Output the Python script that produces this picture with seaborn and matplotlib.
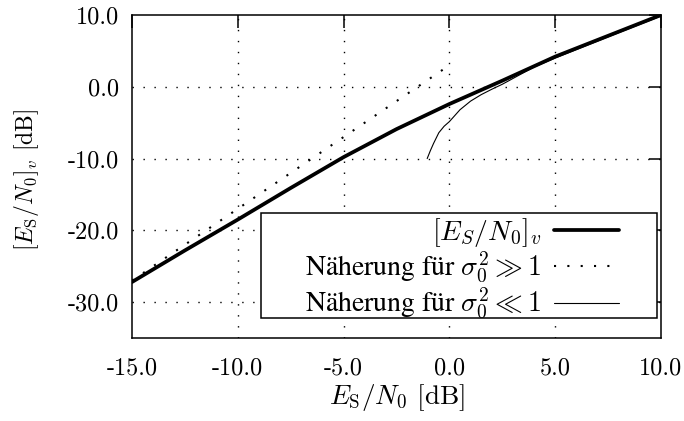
import matplotlib
matplotlib.use("Agg")
import matplotlib.pyplot as plt
from matplotlib.patches import Rectangle
import pandas as pd
import seaborn as sns
from matplotlib.ticker import FixedLocator, FixedFormatter

# Effective SNR after the nonlinearity, and its two asymptotic approximations
snr_in_db = [-15.0, -12.5, -10.0, -7.5, -5.0, -2.5, 0.0, 2.5, 5.0, 7.5, 10.0]
snr_eff_db = [-27.2, -22.8, -18.5, -14.1, -9.8, -5.9, -2.4, 0.85, 4.2, 7.1, 10.0]

approx_high_x = [-15.0, 0.0]
approx_high_y = [-27.0, 3.0]

approx_low_x = [-1.05, -0.9, -0.75, -0.5, -0.25, 0.0, 0.5, 1.0, 1.5, 2.0, 2.5,
                3.0, 4.0, 5.0, 7.5, 10.0]
approx_low_y = [-10.0, -8.9, -7.9, -6.4, -5.5, -4.85, -3.2, -2.0, -1.1, -0.35,
                0.35, 1.15, 2.75, 4.0, 6.95, 9.85]

label_eff = r"$[E_S/N_0]_v$"
label_high = r"Näherung für $\sigma_0^2 \gg 1$"
label_low = r"Näherung für $\sigma_0^2 \ll 1$"

x_ticks = [-15.0, -10.0, -5.0, 0.0, 5.0, 10.0]
x_tick_labels = ["-15.0", "-10.0", "-5.0", "0.0", "5.0", "10.0"]
y_ticks = [-30.0, -20.0, -10.0, 0.0, 10.0]
y_tick_labels = ["-30.0", "-20.0", "-10.0", "0.0", "10.0"]

sns.set_theme(style="white")
plt.rcParams.update({
    "font.family": ["cmr10", "STIXGeneral"],
    "mathtext.fontset": "cm",
    "axes.unicode_minus": False,
    "axes.formatter.use_mathtext": True,
    "font.size": 17,
    "axes.edgecolor": "black",
    "axes.linewidth": 1.1,
    "xtick.color": "black",
    "ytick.color": "black",
    "text.color": "black",
    "axes.labelcolor": "black",
})

fig = plt.figure(figsize=(6.84, 4.21), dpi=100)
ax = fig.add_axes([132 / 684, 1 - 338 / 421, 529 / 684, 323 / 421])

# dotted reference grid (inner lines only)
grid_kw = dict(color="black", lw=1.0, linestyle=(0, (1, 6.9)), zorder=1)
for gx in x_ticks[1:-1]:
    ax.axvline(gx, **grid_kw)
for gy in y_ticks[:-1]:
    ax.axhline(gy, **grid_kw)

df_eff = pd.DataFrame({"x": snr_in_db, "y": snr_eff_db})
df_high = pd.DataFrame({"x": approx_high_x, "y": approx_high_y})
df_low = pd.DataFrame({"x": approx_low_x, "y": approx_low_y})

sns.lineplot(data=df_eff, x="x", y="y", ax=ax, color="black", lw=2.7,
             label=label_eff, zorder=4, sort=False)
sns.lineplot(data=df_high, x="x", y="y", ax=ax, color="black", lw=1.5,
             linestyle=(0, (1, 5.4)), label=label_high, zorder=3, sort=False)
sns.lineplot(data=df_low, x="x", y="y", ax=ax, color="black", lw=0.8,
             label=label_low, zorder=3, sort=False)

ax.set_xlim(-15, 10)
ax.set_ylim(-35, 10)
ax.xaxis.set_major_locator(FixedLocator(x_ticks))
ax.xaxis.set_major_formatter(FixedFormatter(x_tick_labels))
ax.yaxis.set_major_locator(FixedLocator(y_ticks))
ax.yaxis.set_major_formatter(FixedFormatter(y_tick_labels))
ax.tick_params(direction="in", length=9, width=1.1, top=True, right=True,
               labelsize=17.5, pad=9)
ax.tick_params(axis="x", pad=14)
for s in ax.spines.values():
    s.set_visible(True)
    s.set_color("black")
    s.set_linewidth(1.1)

ax.set_xlabel(r"$E_\mathrm{S}/N_0$ [dB]", fontsize=19.5)
ax.set_ylabel(r"$[E_\mathrm{S}/N_0]_v$ [dB]", fontsize=17)
ax.xaxis.set_label_coords(0.5, -0.135)
ax.yaxis.set_label_coords(-0.172, 0.49)

# key box: white panel with the entries right-aligned against their samples
key_box = Rectangle((129 / 529, 20 / 323), 396 / 529, 105 / 323,
                    transform=ax.transAxes, facecolor="white",
                    edgecolor="black", lw=1.1, zorder=9, clip_on=False)
ax.add_patch(key_box)

leg = ax.legend(loc="center right", bbox_to_anchor=(487 / 529, 69.5 / 323),
                markerfirst=False, frameon=False,
                prop={"family": ["STIXGeneral"], "size": 20},
                handlelength=2.33, handletextpad=0.47, borderpad=0,
                labelspacing=0.05, borderaxespad=0)
leg.set_zorder(10)

fig.savefig("out.png", dpi=100)
